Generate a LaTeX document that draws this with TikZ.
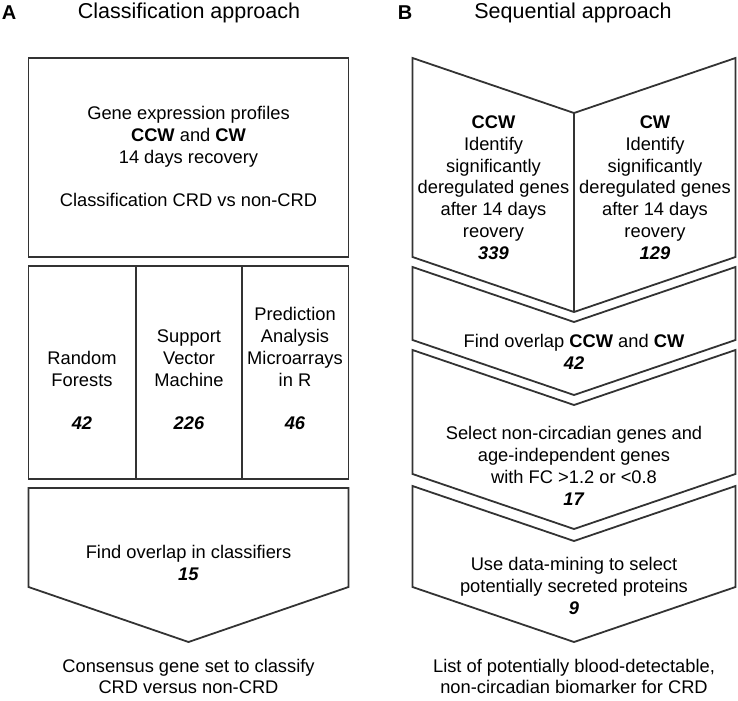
\documentclass[tikz,border=0pt]{standalone}
\usepackage{fontspec}
\setmainfont{Liberation Sans}
\definecolor{linegray}{HTML}{333333}
\begin{document}
\begin{tikzpicture}[x=1bp,y=-1bp,
  outline/.style={draw=linegray, line width=1.8bp, line join=miter},
  txt/.style={align=center, font=\fontsize{18.3bp}{21.8bp}\selectfont, inner sep=0pt, text=black},
  title/.style={font=\fontsize{21.5bp}{24bp}\selectfont, inner sep=0pt, anchor=base},
  letter/.style={font=\fontsize{20bp}{24bp}\selectfont\bfseries, inner sep=0pt, anchor=base}]
\useasboundingbox (0,0) rectangle (738,701);
\newcommand{\num}[1]{\textbf{\textit{#1}}}

% headings
\node[letter] (la) at (9,20) {A};
\node[title] (ta) at (189,19) {Classification approach};
\node[letter] (lb) at (405,19.5) {B};
\node[title] (tb) at (573,19) {Sequential approach};

% ---- panel A ----
\draw[outline] (28.5,58) rectangle (348.5,257);
\node[txt] (a1) at (188.5,156.5) {Gene expression profiles\\\textbf{CCW} and \textbf{CW}\\14 days recovery\\[21.8bp]Classification CRD vs non-CRD};

\draw[outline] (28.5,266) rectangle (348.5,479);
\draw[outline] (136,266) -- (136,479);
\draw[outline] (242,266) -- (242,479);
\node[txt, anchor=south] (rf) at (82,430) {Random\\Forests\\[21.8bp]\num{42}};
\node[txt, anchor=south] (svm) at (189,430) {Support\\Vector\\Machine\\[21.8bp]\num{226}};
\node[txt, anchor=south] (pam) at (295,430) {Prediction\\Analysis\\Microarrays\\in R\\[21.8bp]\num{46}};

\draw[outline] (28.5,488) -- (348.5,488) -- (348.5,587) -- (188.5,642) -- (28.5,587) -- cycle;
\node[txt] (fo) at (188.5,563) {Find overlap in classifiers\\\num{15}};

\node[txt] (ca) at (188.5,676.5) {Consensus gene set to classify\\CRD versus non-CRD};

% ---- panel B ----
\draw[outline] (412.5,58) -- (574,113) -- (735.5,58) -- (735.5,257) -- (574,312) -- (412.5,257) -- cycle;
\draw[outline] (574,113) -- (574,312);
\node[txt] (ccw) at (493.5,187.5) {\textbf{CCW}\\Identify\\significantly\\deregulated genes\\after 14 days\\reovery\\\num{339}};
\node[txt] (cw) at (655,187.5) {\textbf{CW}\\Identify\\significantly\\deregulated genes\\after 14 days\\reovery\\\num{129}};

\draw[outline] (412.5,267) -- (574,322) -- (735.5,267) -- (735.5,340) -- (574,395) -- (412.5,340) -- cycle;
\node[txt] (ov) at (574,352) {Find overlap \textbf{CCW} and \textbf{CW}\\\num{42}};

\draw[outline] (412.5,350) -- (574,405) -- (735.5,350) -- (735.5,474) -- (574,529) -- (412.5,474) -- cycle;
\node[txt] (sel) at (574,466) {Select non-circadian genes and\\age-independent genes\\with FC >1.2 or <0.8\\\num{17}};

\draw[outline] (412.5,486) -- (574,541) -- (735.5,486) -- (735.5,587) -- (574,642) -- (412.5,587) -- cycle;
\node[txt] (dm) at (574,586) {Use data-mining to select\\potentially secreted proteins\\\num{9}};

\node[txt] (lb2) at (574,676.5) {List of potentially blood-detectable,\\non-circadian biomarker for CRD};
\end{tikzpicture}
\end{document}
